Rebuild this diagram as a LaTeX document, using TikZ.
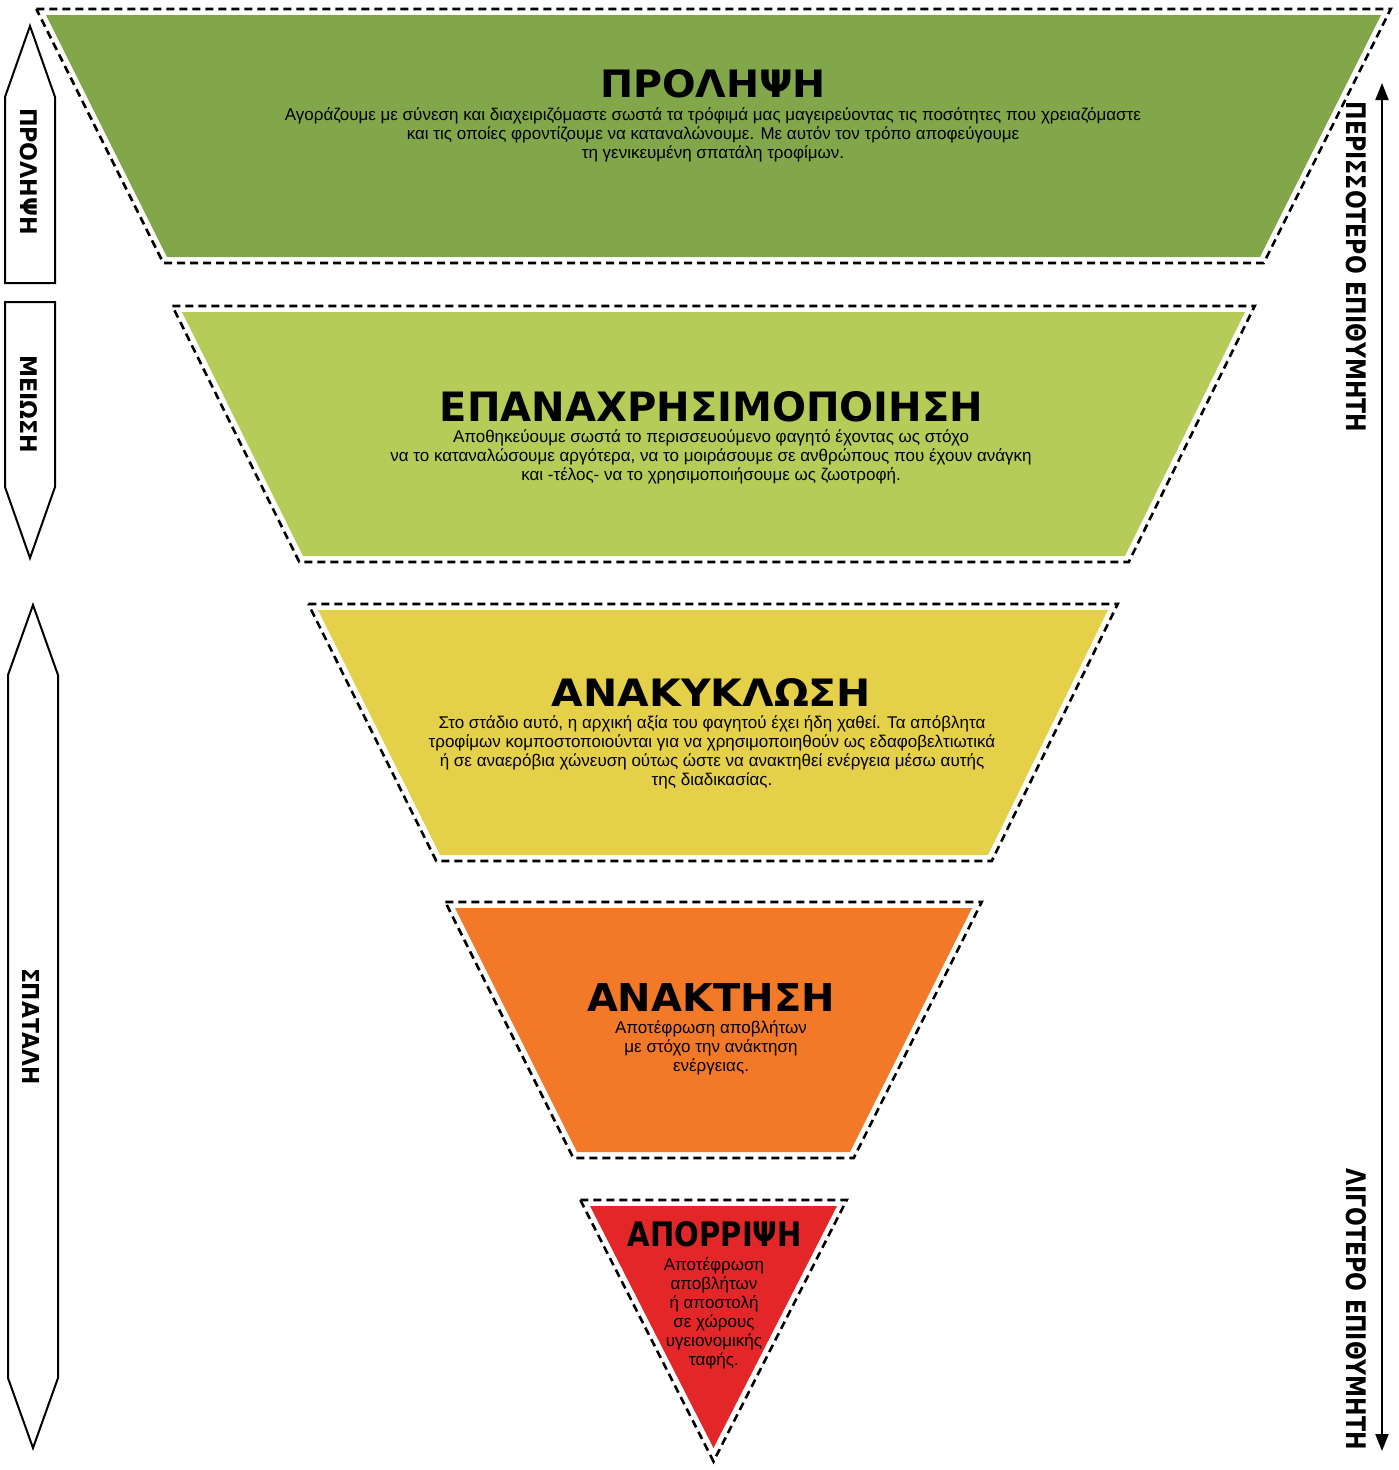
\documentclass[tikz,border=0pt]{standalone}
\usepackage{fontspec}
\setmainfont{Liberation Sans}
\newfontfamily\titlefont{DejaVu Sans}
\usepackage{graphicx}
\usetikzlibrary{arrows.meta}
\definecolor{cA}{RGB}{130,166,74}
\definecolor{cB}{RGB}{181,205,88}
\definecolor{cC}{RGB}{229,208,74}
\definecolor{cD}{RGB}{242,121,40}
\definecolor{cE}{RGB}{227,39,40}
\newcommand{\fitt}[3]{\resizebox{#1pt}{#2pt}{\titlefont\bfseries #3}}
\begin{document}
\begin{tikzpicture}[x=1pt,y=-1pt,
  outline/.style={draw=black, line width=2.6pt, dash pattern=on 8pt off 5pt, line join=miter},
  sidebox/.style={draw=black, line width=2pt, fill=white, line join=miter},
  body/.style={font=\fontsize{17}{19}\selectfont, inner sep=0pt, anchor=base},
  ttl/.style={inner sep=0pt},
  sidelbl/.style={inner sep=0pt, rotate=-90},
  dbl/.style={line width=2pt, {Triangle[length=17pt,width=13pt]}-{Triangle[length=17pt,width=13pt]}},
  ]
\useasboundingbox (0,0) rectangle (1399,1470);
% bands
\fill[cA] (46,15) -- (1381,15) -- (1260,257) -- (167,257) -- cycle;
\draw[outline] (36.3,9) -- (1390.7,9) -- (1263.7,263) -- (163.3,263) -- cycle;
\fill[cB] (182,312) -- (1245,312) -- (1125,556) -- (303,556) -- cycle;
\draw[outline] (172.3,306) -- (1254.7,306) -- (1128.7,562) -- (299.3,562) -- cycle;
\fill[cC] (318,610) -- (1108,610) -- (988,855) -- (440,855) -- cycle;
\draw[outline] (308.3,604) -- (1117.7,604) -- (991.7,861) -- (436.3,861) -- cycle;
\fill[cD] (455,908) -- (972,908) -- (850,1152) -- (577,1152) -- cycle;
\draw[outline] (445.3,902) -- (981.7,902) -- (853.7,1158) -- (573.3,1158) -- cycle;
\fill[cE] (590,1206) -- (837,1206) -- (713.5,1448) -- cycle;
\draw[outline] (580.3,1200) -- (846.7,1200) -- (713.5,1461.4) -- cycle;
% titles
\node[ttl] (t1) at (713,84) {\fitt{226}{28}{ΠΡΟΛΗΨΗ}};
\node[ttl] (t2) at (711.5,406.5) {\fitt{543}{30}{ΕΠΑΝΑΧΡΗΣΙΜΟΠΟΙΗΣΗ}};
\node[ttl] (t3) at (711.5,692.5) {\fitt{319}{28}{ΑΝΑΚΥΚΛΩΣΗ}};
\node[ttl] (t4) at (711,997.5) {\fitt{248}{28}{ΑΝΑΚΤΗΣΗ}};
\node[ttl] (t5) at (715,1234.5) {\fitt{174}{25}{ΑΠΟΡΡΙΨΗ}};
% body texts
\node[body] (b11) at (713,120) {Αγοράζουμε με σύνεση και διαχειριζόμαστε σωστά τα τρόφιμά μας μαγειρεύοντας τις ποσότητες που χρειαζόμαστε};
\node[body] (b12) at (713,139) {και τις οποίες φροντίζουμε να καταναλώνουμε. Με αυτόν τον τρόπο αποφεύγουμε};
\node[body] (b13) at (713,158) {τη γενικευμένη σπατάλη τροφίμων.};
\node[body] (b21) at (711,442.5) {Αποθηκεύουμε σωστά το περισσευούμενο φαγητό έχοντας ως στόχο};
\node[body] (b22) at (711,461.5) {να το καταναλώσουμε αργότερα, να το μοιράσουμε σε ανθρώπους που έχουν ανάγκη};
\node[body] (b23) at (711,480.5) {και -τέλος- να το χρησιμοποιήσουμε ως ζωοτροφή.};
\node[body] (b31) at (712,728.5) {Στο στάδιο αυτό, η αρχική αξία του φαγητού έχει ήδη χαθεί. Τα απόβλητα};
\node[body] (b32) at (712,747.5) {τροφίμων κομποστοποιούνται για να χρησιμοποιηθούν ως εδαφοβελτιωτικά};
\node[body] (b33) at (712,766.5) {ή σε αναερόβια χώνευση ούτως ώστε να ανακτηθεί ενέργεια μέσω αυτής};
\node[body] (b34) at (712,785.5) {της διαδικασίας.};
\node[body] (b41) at (711,1033) {Αποτέφρωση αποβλήτων};
\node[body] (b42) at (711,1052) {με στόχο την ανάκτηση};
\node[body] (b43) at (711,1071) {ενέργειας.};
\node[body] (b51) at (714,1270) {Αποτέφρωση};
\node[body] (b52) at (714,1289) {αποβλήτων};
\node[body] (b53) at (714,1308) {ή αποστολή};
\node[body] (b54) at (714,1327) {σε χώρους};
\node[body] (b55) at (714,1346) {υγειονομικής};
\node[body] (b56) at (714,1365) {ταφής.};
% left side arrows
\draw[sidebox] (5,283) -- (5,97) -- (30,26) -- (55,97) -- (55,283) -- cycle;
\draw[sidebox] (5,302) -- (55,302) -- (55,487) -- (30,558) -- (5,487) -- cycle;
\draw[sidebox] (33,605) -- (58,675) -- (58,1378) -- (33,1448) -- (8,1378) -- (8,675) -- cycle;
\node[sidelbl] (s1) at (29,171.5) {\fitt{127}{17}{ΠΡΟΛΗΨΗ}};
\node[sidelbl] (s2) at (29,404) {\fitt{98}{17}{ΜΕΙΩΣΗ}};
\node[sidelbl] (s3) at (31,1026.5) {\fitt{117}{17}{ΣΠΑΤΑΛΗ}};
% right arrow
\coordinate (rtop) at (1382,83);
\coordinate (rbot) at (1382,1451);
\draw[dbl] (rtop) -- (rbot);
\node[sidelbl] (r1) at (1356,267) {\fitt{330}{20}{ΠΕΡΙΣΣΟΤΕΡΟ ΕΠΙΘΥΜΗΤΗ}};
\node[sidelbl] (r2) at (1356,1309) {\fitt{282}{20}{ΛΙΓΟΤΕΡΟ ΕΠΙΘΥΜΗΤΗ}};
\end{tikzpicture}
\end{document}
